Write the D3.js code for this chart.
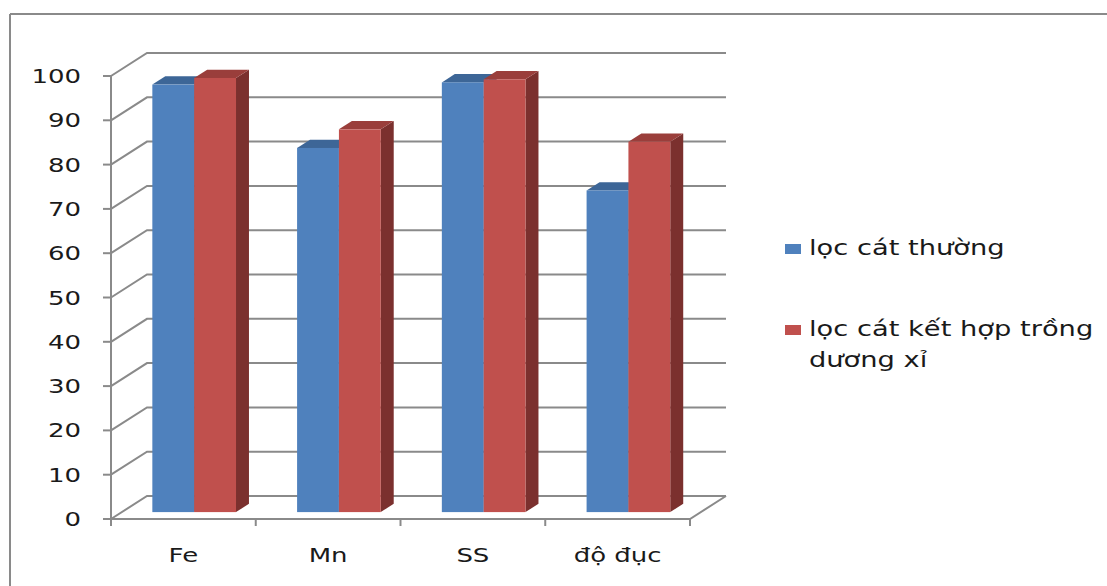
<!DOCTYPE html>
<html>
<head>
<meta charset="utf-8">
<script src="https://cdn.jsdelivr.net/npm/d3@7"></script>
<style>
  html, body { margin: 0; padding: 0; background: #ffffff; }
  svg { display: block; }
  text { font-family: "DejaVu Sans", Verdana, sans-serif; fill: #1a1a1a; }
</style>
</head>
<body>
<svg id="chart" width="1107" height="586"></svg>
<script>
// Removal efficiency (%) for each parameter, two filter setups
const categories = ["Fe", "Mn", "SS", "độ đục"];
const seriesNames = ["lọc cát thường", "lọc cát kết hợp trồng dương xỉ"];
const seriesPlain = [96.5, 82.2, 97.0, 72.6];   // lọc cát thường
const seriesFern  = [98.0, 86.4, 97.7, 83.6];   // lọc cát kết hợp trồng dương xỉ
const yTicks = [0, 10, 20, 30, 40, 50, 60, 70, 80, 90, 100];

const colors = {
  front: ["#4f81bd", "#c0504d"],
  top:   ["#3d6697", "#9a3e3b"],
  side:  ["#365d8b", "#7b302e"]
};

const svg = d3.select("#chart");
const textScaleX = 1.3;

// Front plane of the plot and depth offset of the back wall
const plotLeft = 111, plotRight = 690, plotBottom = 519, plotTop = 76;
const depthDX = 36, depthDY = -23;
const barDepth0 = 0.30, barDepth1 = 0.66;

const x = d3.scaleBand().domain(categories).range([plotLeft, plotRight]).paddingInner(0).paddingOuter(0);
const y = d3.scaleLinear().domain([0, 100]).range([plotBottom, plotTop]);
const inner = d3.scaleBand().domain([0, 1]).range([0, x.bandwidth()]).paddingInner(0).paddingOuter(0.73);

const gridColor = "#8a8a8a";
const pts = arr => arr.map(p => p.join(",")).join(" ");

// outer frame (top and left edges)
svg.append("line").attr("x1", 10).attr("x2", 1107).attr("y1", 14).attr("y2", 14)
  .attr("stroke", gridColor).attr("stroke-width", 2);
svg.append("line").attr("x1", 10).attr("x2", 10).attr("y1", 14).attr("y2", 586)
  .attr("stroke", gridColor).attr("stroke-width", 2);

// back wall gridlines with their diagonal connectors to the front axis
const grid = svg.append("g");
yTicks.forEach(v => {
  const yf = y(v);
  grid.append("polyline")
    .attr("points", pts([[plotLeft, yf], [plotLeft + depthDX, yf + depthDY], [plotRight + depthDX, yf + depthDY]]))
    .attr("fill", "none").attr("stroke", gridColor).attr("stroke-width", 2);
});
// floor front and right edges
grid.append("polyline")
  .attr("points", pts([[plotLeft, plotBottom], [plotRight, plotBottom], [plotRight + depthDX, plotBottom + depthDY]]))
  .attr("fill", "none").attr("stroke", gridColor).attr("stroke-width", 2);

// value axis
grid.append("line").attr("x1", plotLeft).attr("x2", plotLeft).attr("y1", y(100)).attr("y2", plotBottom)
  .attr("stroke", gridColor).attr("stroke-width", 2);
yTicks.forEach(v => {
  grid.append("line").attr("x1", plotLeft - 8).attr("x2", plotLeft).attr("y1", y(v)).attr("y2", y(v))
    .attr("stroke", gridColor).attr("stroke-width", 2);
  svg.append("g").attr("transform", `translate(${plotLeft - 30},${y(v) + 7}) scale(${textScaleX},1)`)
    .append("text").attr("text-anchor", "end").attr("font-size", 20).text(v);
});

// category ticks and labels
const catEdges = categories.map(c => x(c)).concat([plotRight]);
catEdges.forEach(e => {
  grid.append("line").attr("x1", e).attr("x2", e).attr("y1", plotBottom).attr("y2", plotBottom + 7)
    .attr("stroke", gridColor).attr("stroke-width", 2);
});
categories.forEach(c => {
  svg.append("g").attr("transform", `translate(${x(c) + x.bandwidth() / 2},${plotBottom + 43}) scale(${textScaleX},1)`)
    .append("text").attr("text-anchor", "middle").attr("font-size", 20).text(c);
});

// 3D columns
const series = [seriesPlain, seriesFern];
const ox = barDepth0 * depthDX, oy = barDepth0 * depthDY;
const sdx = (barDepth1 - barDepth0) * depthDX, sdy = (barDepth1 - barDepth0) * depthDY;
const bars = svg.append("g");
categories.forEach((c, i) => {
  [0, 1].forEach(s => {
    const v = series[s][i];
    const x0 = x(c) + inner(s) + ox, x1 = x0 + inner.bandwidth();
    const yb = y(0) + oy, yt = y(v) + oy;
    const g = bars.append("g");
    // side face
    g.append("polygon")
      .attr("points", pts([[x1, yt], [x1 + sdx, yt + sdy], [x1 + sdx, yb + sdy], [x1, yb]]))
      .attr("fill", colors.side[s]);
    // top face
    g.append("polygon")
      .attr("points", pts([[x0, yt], [x1, yt], [x1 + sdx, yt + sdy], [x0 + sdx, yt + sdy]]))
      .attr("fill", colors.top[s]);
    // front face
    g.append("rect").attr("x", x0).attr("y", yt).attr("width", x1 - x0).attr("height", yb - yt)
      .attr("fill", colors.front[s]);
  });
});

// legend
const legend = svg.append("g");
const legendItems = [
  { lines: ["lọc cát thường"], y: 249 },
  { lines: ["lọc cát kết hợp trồng", "dương xỉ"], y: 330 }
];
legendItems.forEach((item, s) => {
  legend.append("rect").attr("x", 785).attr("y", item.y - 5).attr("width", 16).attr("height", 10)
    .attr("fill", colors.front[s]);
  item.lines.forEach((ln, k) => {
    legend.append("g").attr("transform", `translate(809,${item.y + 6 + k * 31}) scale(${textScaleX},1)`)
      .append("text").attr("font-size", 21).text(ln);
  });
});
</script>
</body>
</html>
